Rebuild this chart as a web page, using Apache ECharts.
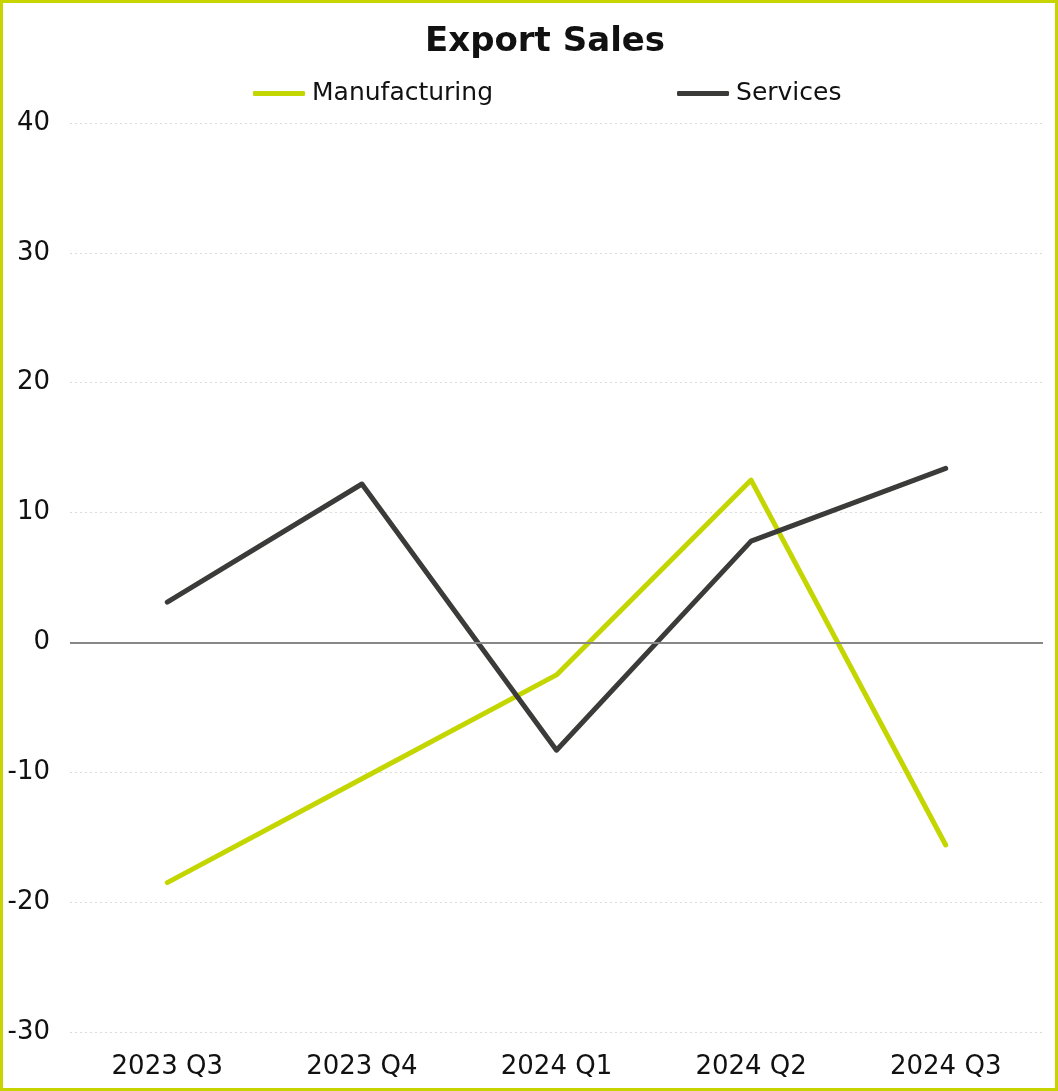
<!DOCTYPE html>
<html>
<head>
<meta charset="utf-8">
<script src="https://cdn.jsdelivr.net/npm/echarts@6/dist/echarts.min.js"></script>
<style>
  html, body { margin: 0; padding: 0; background: #fff; }
  #frame { width: 1058px; height: 1091px; box-sizing: border-box; border: 3px solid #c8d400; }
  #chart { width: 100%; height: 100%; }
</style>
</head>
<body>
<div id="frame"><div id="chart"></div></div>
<script>
// Quarterly export sales balance by sector
const quarters = ['2023 Q3', '2023 Q4', '2024 Q1', '2024 Q2', '2024 Q3'];
const manufacturing = [-18.5, -10.5, -2.5, 12.5, -15.6];
const services = [3.1, 12.2, -8.3, 7.8, 13.4];
const yTicks = { min: -30, max: 40, interval: 10 };

const FONT = '"DejaVu Sans", Lato, sans-serif';
const chart = echarts.init(document.getElementById('chart'));

chart.setOption({
  animation: false,
  title: {
    text: 'Export Sales',
    left: 417,
    top: 17,
    textStyle: { fontFamily: FONT, fontSize: 34, fontWeight: 'bold', color: '#111' }
  },
  legend: {
    top: 73,
    left: 245,
    itemGap: 184,
    itemWidth: 52,
    itemHeight: 5,
    icon: 'roundRect',
    textStyle: { fontFamily: FONT, fontSize: 25, color: '#111', padding: [0, 0, 0, 2] },
    data: ['Manufacturing', 'Services']
  },
  grid: { left: 67, right: 12, top: 120, bottom: 56 },
  xAxis: {
    type: 'category',
    data: quarters,
    boundaryGap: true,
    axisLine: { show: false },
    axisTick: { show: false },
    axisLabel: { fontFamily: FONT, fontSize: 26, color: '#111', margin: 22 }
  },
  yAxis: {
    type: 'value',
    min: yTicks.min,
    max: yTicks.max,
    interval: yTicks.interval,
    axisLine: { show: false },
    axisTick: { show: false },
    axisLabel: { fontFamily: FONT, fontSize: 26, color: '#111', margin: 20 },
    splitLine: { lineStyle: { color: '#dcdcdc', type: [2, 3], width: 1 } }
  },
  series: [
    {
      name: 'Manufacturing',
      type: 'line',
      data: manufacturing,
      showSymbol: false,
      symbol: 'none',
      itemStyle: { color: '#c4d600' },
      lineStyle: { color: '#c4d600', width: 5, cap: 'round', join: 'round' },
      markLine: {
        silent: true,
        symbol: 'none',
        label: { show: false },
        lineStyle: { color: '#888', type: 'solid', width: 2 },
        data: [{ yAxis: 0 }]
      },
      z: 3
    },
    {
      name: 'Services',
      type: 'line',
      data: services,
      showSymbol: false,
      symbol: 'none',
      itemStyle: { color: '#3b3c3a' },
      lineStyle: { color: '#3b3c3a', width: 5, cap: 'round', join: 'round' },
      z: 4
    }
  ]
});
</script>
</body>
</html>
